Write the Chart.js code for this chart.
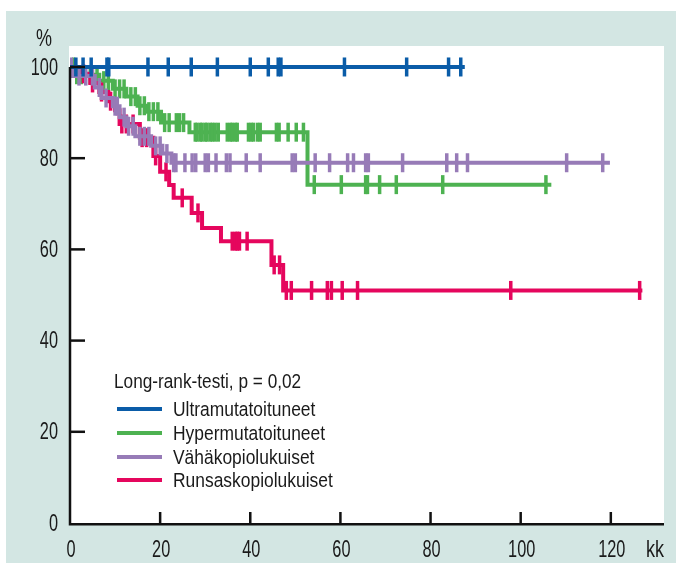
<!DOCTYPE html>
<html><head><meta charset="utf-8">
<script src="https://cdn.jsdelivr.net/npm/chart.js@4.4.0/dist/chart.umd.min.js"></script>
<style>html,body{margin:0;padding:0;background:#fff}#wrap{width:681px;height:571px;position:relative}</style>
</head><body><div id="wrap"><canvas id="c" width="681" height="571"></canvas></div>
<script>
// ---- data ----
const seriesNames = ["Ultramutatoituneet", "Hypermutatoituneet", "Vähäkopiolukuiset", "Runsaskopiolukuiset"];
const legendTitle = "Long-rank-testi, p = 0,02";
const xTickValues = [0, 20, 40, 60, 80, 100, 120];
const yTickValues = [0, 20, 40, 60, 80, 100];
const xUnit = "kk";
const yUnit = "%";

// step curves: times (months) where survival changes, and survival after that time
const ultraTimes = [0, 87.6];
const ultraSurv  = [100, 100];
const ultraCensor = [1.3, 2.9, 4.7, 8.2, 8.6, 17.3, 21.8, 26.9, 32.7, 40, 44, 46.2, 46.8, 60.9, 74.7, 84, 86.7];

const hyperTimes = [0, 1.0, 6.5, 9.5, 12.5, 15.0, 17.0, 20.2, 26.5, 52.7, 106.8];
const hyperSurv  = [100, 98.3, 97.0, 95.2, 93.5, 91.5, 90.2, 87.8, 85.7, 74.2, 74.2];
const hyperCensor = [0.8, 1.5, 2.5, 4.5, 6, 7.5, 8.5, 10, 11, 12, 13.5, 14.5, 15.5, 16.5, 17.5, 18.5, 19.5, 21, 22, 23.6, 24.3, 25.2,
  27.8, 28.2, 28.9, 29.3, 30, 30.4, 31.1, 31.6, 32.2, 32.9, 34.9, 35.6, 36, 36.7, 37.1, 39.6, 40.2, 40.7, 41.6, 42.2, 45.8, 46.4, 48.4, 50.2, 51.8,
  54.2, 60.2, 65.6, 66, 68.7, 72.4, 82.7, 105.6];

const lowTimes = [0, 0.5, 5.5, 7, 9.5, 11, 12.5, 14.5, 18, 20.5, 22.5, 119.8];
const lowSurv  = [100, 98, 95.5, 93.2, 91.4, 89, 87, 84.8, 82.7, 81, 79, 79];
const lowCensor = [0.3, 2, 3.5, 5, 6.5, 8, 10, 10.5, 12, 13, 14, 15.5, 16.5, 17.5, 19, 20, 21.5, 23, 23.5, 25.5, 27.1, 27.9, 30, 30.7,
  32.4, 34.7, 35.5, 39.1, 42.2, 49.3, 50, 54.4, 57.6, 61.6, 62.9, 65.6, 66.2, 73.8, 83.6, 85.8, 88.2, 110.2, 118.2];

const highTimes = [0, 2.5, 4.5, 6.5, 8.5, 10, 11, 15.5, 18.5, 20, 22, 23, 27, 29.3, 33.5, 44.7, 47.3, 127];
const highSurv  = [100, 98.5, 96.5, 94.5, 92.5, 90.5, 87.5, 84.5, 80.5, 77, 74.1, 71.3, 68, 64.7, 61.8, 56.6, 51, 51];
const highCensor = [3, 5, 7, 9, 11.5, 12.5, 14, 16, 17, 19, 21.3, 24.9, 28.4, 36, 36.7, 37.1, 37.6, 39.3, 45.3, 46.5,
  48, 49.1, 53.6, 57.1, 58, 60.4, 63.8, 97.8, 126.4];

const colors = ["#0a5ca8", "#4db251", "#977bb7", "#e5065d"];
// ---- end data ----

const FONT = "'Liberation Sans', Arial, sans-serif";
const curves = [
  [ultraTimes, ultraSurv, ultraCensor],
  [hyperTimes, hyperSurv, hyperCensor],
  [lowTimes, lowSurv, lowCensor],
  [highTimes, highSurv, highCensor]
];
function survAt(times, surv, t) {
  let v = surv[0];
  for (let i = 0; i < times.length; i++) if (times[i] <= t) v = surv[i];
  return v;
}
const datasets = [];
const drawOrder = [0, 3, 1, 2]; // lower "order" drawn on top
curves.forEach((c, i) => {
  datasets.push({
    label: seriesNames[i],
    data: c[0].map((t, k) => ({x: t, y: c[1][k]})),
    borderColor: colors[i], backgroundColor: colors[i],
    borderWidth: 4, stepped: 'before', showLine: true, pointRadius: 0, fill: false,
    order: drawOrder[i] * 2 + 1
  });
  datasets.push({
    label: seriesNames[i] + " (sensuroitu)",
    data: c[2].map(t => ({x: t, y: survAt(c[0], c[1], t)})),
    showLine: false, pointStyle: 'line', rotation: 90, pointRadius: 9.5,
    pointBorderWidth: 3.5, borderColor: colors[i], backgroundColor: colors[i],
    pointHoverRadius: 9.5, order: drawOrder[i] * 2
  });
});

function squeezedText(ctx, text, x, y, sx, align) {
  ctx.save();
  ctx.translate(x, y);
  ctx.scale(sx, 1);
  ctx.textAlign = align;
  ctx.fillText(text, 0, 0);
  ctx.restore();
}

const decor = {
  id: 'decor',
  beforeDraw(chart) {
    const ctx = chart.ctx, a = chart.chartArea;
    ctx.save();
    ctx.fillStyle = '#fff'; ctx.fillRect(0, 0, chart.width, chart.height);
    ctx.fillStyle = '#d3e6e3'; ctx.fillRect(6, 11, 670, 552);
    ctx.fillStyle = '#fff'; ctx.fillRect(a.left - 1, a.top, a.right - a.left + 1, a.bottom - a.top);
    ctx.restore();
  },
  afterDraw(chart) {
    const ctx = chart.ctx, a = chart.chartArea, xs = chart.scales.x, ys = chart.scales.y;
    ctx.save();
    // axes and inward ticks
    ctx.strokeStyle = '#111'; ctx.lineWidth = 2.5; ctx.lineCap = 'butt';
    const x0 = xs.getPixelForValue(0), yTop = ys.getPixelForValue(100), yb = ys.getPixelForValue(0);
    ctx.beginPath(); ctx.moveTo(x0, yTop); ctx.lineTo(x0, yb + 1.25); ctx.lineTo(a.right, yb + 1.25); ctx.stroke();
    yTickValues.forEach(v => { if (v === 0) return; const y = ys.getPixelForValue(v);
      ctx.beginPath(); ctx.moveTo(x0, y); ctx.lineTo(x0 + 15, y); ctx.stroke(); });
    xTickValues.forEach(v => { if (v === 0) return; const x = xs.getPixelForValue(v);
      ctx.beginPath(); ctx.moveTo(x, yb); ctx.lineTo(x, yb - 11); ctx.stroke(); });
    // texts
    ctx.fillStyle = '#1a1a1a';
    ctx.textBaseline = 'middle';
    ctx.font = "24px " + FONT;
    yTickValues.forEach(v => squeezedText(ctx, String(v), 58, ys.getPixelForValue(v) + 1, 0.68, 'right'));
    xTickValues.forEach(v => squeezedText(ctx, String(v), xs.getPixelForValue(v) + 1, 550, 0.68, 'center'));
    squeezedText(ctx, yUnit, 44, 39, 0.75, 'center');
    squeezedText(ctx, xUnit, 655, 550, 0.75, 'center');
    ctx.font = "20.5px " + FONT;
    squeezedText(ctx, legendTitle, 114, 382, 0.84, 'left');
    const ly = [409, 433, 457, 480];
    seriesNames.forEach((n, i) => {
      ctx.strokeStyle = colors[i]; ctx.lineWidth = 4;
      ctx.beginPath(); ctx.moveTo(117, ly[i]); ctx.lineTo(162, ly[i]); ctx.stroke();
      squeezedText(ctx, n, 173, ly[i] + 1, 0.85, 'left');
    });
    ctx.restore();
  }
};

new Chart(document.getElementById('c'), {
  type: 'scatter',
  data: {datasets},
  plugins: [decor],
  options: {
    responsive: false, animation: false, devicePixelRatio: 1,
    layout: {padding: {left: 0, top: 46, right: 17, bottom: 0}},
    plugins: {legend: {display: false}, tooltip: {enabled: false}},
    elements: {line: {tension: 0}},
    scales: {
      x: {
        type: 'linear', min: 0, max: 131.8,
        grid: {display: false}, border: {display: false},
        afterBuildTicks: s => { s.ticks = xTickValues.map(v => ({value: v})); },
        afterFit: s => { s.height = 48; },
        ticks: {display: false}
      },
      y: {
        type: 'linear', min: 0, max: 104.6,
        grid: {display: false}, border: {display: false},
        afterBuildTicks: s => { s.ticks = yTickValues.map(v => ({value: v})); },
        afterFit: s => { s.width = 70; },
        ticks: {display: false}
      }
    }
  }
});
</script></body></html>
